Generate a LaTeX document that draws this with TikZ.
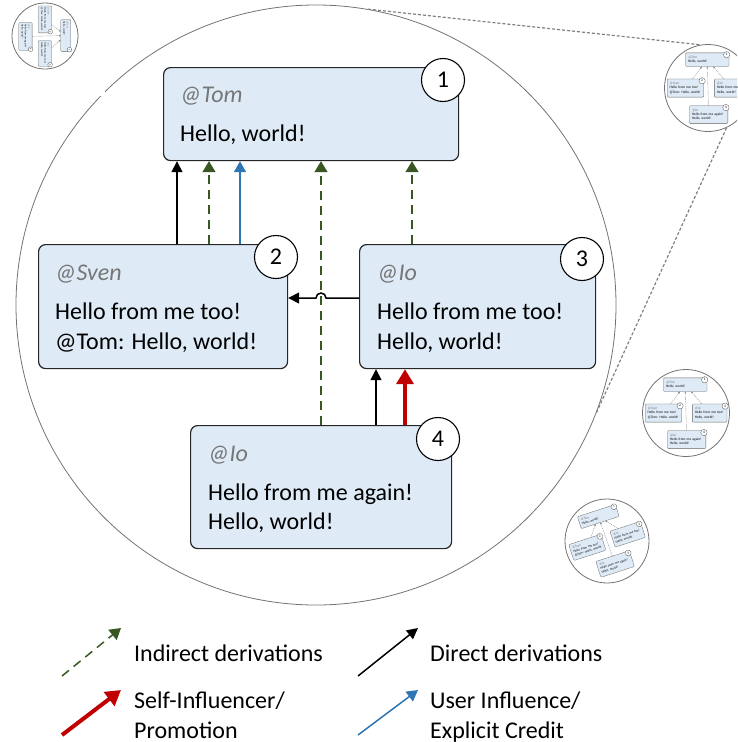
\documentclass[tikz,border=0pt]{standalone}
\usepackage{fontspec}
\setmainfont{Carlito}
\usetikzlibrary{arrows.meta}

\definecolor{postfill}{HTML}{DEEBF7}
\definecolor{handlegray}{HTML}{767676}
\definecolor{indirectgreen}{HTML}{385723}
\definecolor{creditblue}{HTML}{2E75B6}
\definecolor{selfred}{HTML}{C00000}

\tikzset{
  post/.style={draw=black!85, line width=1.2pt, fill=postfill, rounded corners=7pt,
               anchor=north west, inner sep=0pt},
  badge/.style={circle, draw=black, line width=1.1pt, fill=white, minimum size=43pt,
                inner sep=0pt, font=\fontsize{24}{30}\selectfont},
  handle/.style={anchor=base west, inner sep=0pt, text=handlegray,
                 font=\fontsize{24}{30}\selectfont\itshape},
  msg/.style={anchor=base west, inner sep=0pt, font=\fontsize{24}{30}\selectfont},
  direct/.style={draw=black, line width=1.5pt, -{Triangle[width=11pt,length=11pt]}},
  indirect/.style={draw=indirectgreen, line width=1.5pt, dash pattern=on 9pt off 6pt,
                   -{Triangle[width=13pt,length=11pt]}},
  credit/.style={draw=creditblue, line width=1.5pt, -{Triangle[width=12pt,length=11pt]}},
  selfinf/.style={draw=selfred, line width=4pt, -{Triangle[width=17pt,length=15pt]}},
  scene/.style={circle, draw=black!55, line width=0.8pt, minimum size=600pt, inner sep=0pt},
  thumb/.style={circle, draw=black!55, line width=0.8pt, fill=white, minimum size=87pt, inner sep=0pt},
  zoomline/.style={draw=black!50, line width=1.2pt, dash pattern=on 3pt off 2pt},
  minibox/.style={draw=black!60, line width=0.3pt, fill=postfill, rounded corners=1pt,
                  anchor=north west, align=left, inner xsep=17pt, inner ysep=0pt,
                  font=\fontsize{24}{30}\selectfont},
  minibadge/.style={circle, draw=black!70, line width=0.3pt, fill=white, minimum size=43pt,
                    inner sep=0pt, font=\fontsize{24}{30}\selectfont},
  minilink/.style={draw=black!45, line width=0.4pt, dash pattern=on 1pt off 0.8pt,
                   -{Triangle[width=1.8pt,length=1.8pt]}},
  minitree/.pic={
    \node[minibox, text width=261pt, minimum height=93pt] (-p1) at (-153,-239)
      {\textcolor{handlegray}{\itshape @Tom}\\Hello, world!};
    \node[minibox, text width=215pt, minimum height=124pt] (-p2) at (-278,-62)
      {\textcolor{handlegray}{\itshape @Sven}\\Hello from me too!\\@Tom: Hello, world!};
    \node[minibox, text width=202pt, minimum height=124pt] (-p3) at (43,-62)
      {\textcolor{handlegray}{\itshape @Io}\\Hello from me too!\\Hello, world!};
    \node[minibox, text width=227pt, minimum height=123pt] (-p4) at (-126,119)
      {\textcolor{handlegray}{\itshape @Io}\\Hello from me again!\\Hello, world!};
    \node[minibadge] (-n1) at (127,-226) {1};
    \node[minibadge] (-n2) at (-40,-49) {2};
    \node[minibadge] (-n3) at (266,-47) {3};
    \node[minibadge] (-n4) at (122,133) {4};
    \path (-p2) edge[minilink] (-p1);
    \path (-p3) edge[minilink] (-p1);
    \path (-p4) edge[minilink] (-p1);
  }
}

\begin{document}
\begin{tikzpicture}[x=1pt,y=-1pt]
\useasboundingbox (0,0) rectangle (737,742);
\clip (0,0) rectangle (737,742);

\node[scene] (scene) at (316,305) {};

% zoomed-out views
\node[thumb] (thumbTR) at (708,88) {};
\node[thumb] (thumbMR) at (686,413) {};
\node[thumb, minimum size=84pt] (thumbBR) at (607,541) {};
\path (scene.80) edge[zoomline] (thumbTR.100);
\path (thumbTR.-65) edge[zoomline] (scene.-21);
\fill[white] (0,0) rectangle (105,96);
\node[thumb, minimum size=66pt] (thumbTL) at (45,36) {};

\pic[transform shape, scale=0.147] (treeTR) at (thumbTR) {minitree};
\pic[transform shape, scale=0.147] (treeMR) at (thumbMR) {minitree};
\pic[transform shape, scale=0.135, rotate=18] (treeBR) at (thumbBR) {minitree};
\pic[transform shape, scale=0.108, rotate=-90] (treeTL) at (thumbTL) {minitree};

% posts
\node[post, minimum width=295pt, minimum height=93pt] (b1) at (163,67) {};
\node[post, minimum width=249pt, minimum height=124pt] (b2) at (38,244) {};
\node[post, minimum width=236pt, minimum height=124pt] (b3) at (359,244) {};
\node[post, minimum width=261pt, minimum height=123pt] (b4) at (190,425) {};

\node[handle] (h1) at (180,102) {@Tom};
\node[msg] (m1) at (180,141) {Hello, world!};
\node[handle] (h2) at (55,280) {@Sven};
\node[msg] (m2a) at (55,319) {Hello from me too!};
\node[msg] (m2b) at (55,349) {@Tom: Hello, world!};
\node[handle] (h3) at (377,280) {@Io};
\node[msg] (m3a) at (377,319) {Hello from me too!};
\node[msg] (m3b) at (377,349) {Hello, world!};
\node[handle] (h4) at (208,461) {@Io};
\node[msg] (m4a) at (208,500) {Hello from me again!};
\node[msg] (m4b) at (208,529) {Hello, world!};

% derivation lanes
\coordinate (xa) at (177,0);
\coordinate (xb) at (209,0);
\coordinate (xc) at (240,0);
\coordinate (xd) at (321,0);
\coordinate (xe) at (412,0);
\coordinate (xf) at (376,0);
\coordinate (xg) at (405,0);
\coordinate (hopy) at (0,298);

\begin{scope}
    \path (xa |- b2.north) edge[direct] (xa |- b1.south);
    \path (xb |- b2.north) edge[indirect] (xb |- b1.south);
    \path (xc |- b2.north) edge[credit] (xc |- b1.south);
    \path (xd |- b4.north) edge[indirect] (xd |- b1.south);
    \path (xe |- b3.north) edge[indirect] (xe |- b1.south);
    \path (xf |- b4.north) edge[direct] (xf |- b3.south);
    \path (xg |- b4.north) edge[selfinf] (xg |- b3.south);
    \path (xd |- hopy) coordinate (hop);
    \draw[direct] (b3.west |- hopy) -- ([xshift=5pt]hop)
        arc[start angle=0, end angle=180, radius=5pt] -- (b2.east |- hopy);
\end{scope}

\node[badge] (n1) at (443,80) {1};
\node[badge] (n2) at (276,257) {2};
\node[badge] (n3) at (582,259) {3};
\node[badge] (n4) at (438,439) {4};

% legend
\coordinate (lgA0) at (62,676);   \coordinate (lgA1) at (121,628);
\coordinate (lgB0) at (358,676);  \coordinate (lgB1) at (418,628);
\coordinate (lgC0) at (62,735);   \coordinate (lgC1) at (121,690);
\coordinate (lgD0) at (358,735);  \coordinate (lgD1) at (418,690);
\path (lgA0) edge[indirect] (lgA1);
\path (lgB0) edge[direct] (lgB1);
\path (lgC0) edge[selfinf] (lgC1);
\path (lgD0) edge[credit] (lgD1);
\node[msg] (lgA) at (134,661) {Indirect derivations};
\node[msg] (lgB) at (430,661) {Direct derivations};
\node[msg] (lgC) at (134,708) {Self-Influencer/};
\node[msg] (lgCb) at (134,738) {Promotion};
\node[msg] (lgD) at (430,708) {User Influence/};
\node[msg] (lgDb) at (430,738) {Explicit Credit};
\end{tikzpicture}
\end{document}
